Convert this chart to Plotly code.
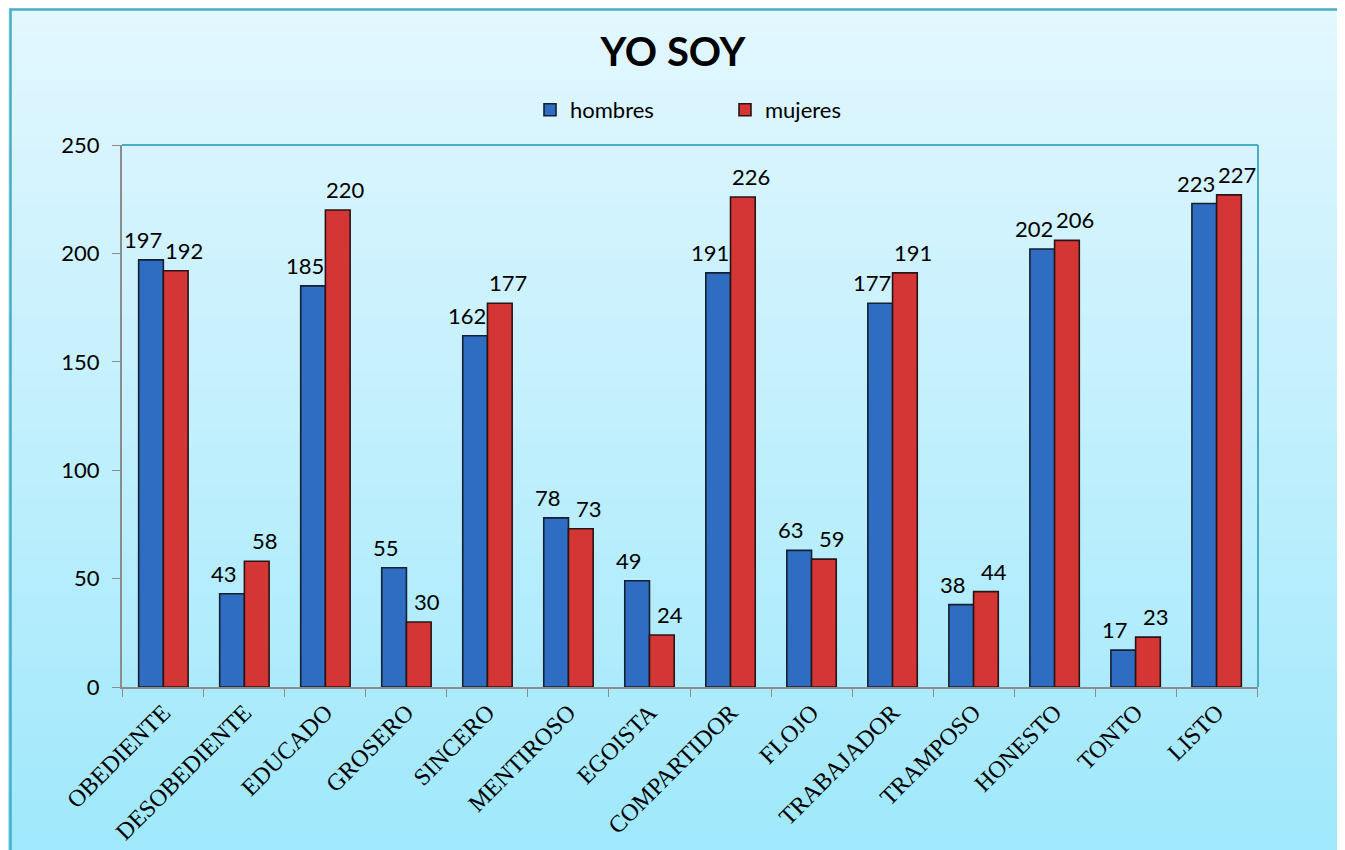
import plotly.graph_objects as go

categories = ["OBEDIENTE", "DESOBEDIENTE", "EDUCADO", "GROSERO", "SINCERO", "MENTIROSO",
              "EGOISTA", "COMPARTIDOR", "FLOJO", "TRABAJADOR", "TRAMPOSO", "HONESTO",
              "TONTO", "LISTO"]
hombres = [197, 43, 185, 55, 162, 78, 49, 191, 63, 177, 38, 202, 17, 223]
mujeres = [192, 58, 220, 30, 177, 73, 24, 226, 59, 191, 44, 206, 23, 227]
y_ticks = [0, 50, 100, 150, 200, 250]

OFF = 8  # page body margin
PAGE_W, PAGE_H = 1345, 850
W, H = PAGE_W - OFF, PAGE_H - OFF
# plot area in page pixels
PL, PR, PT, PB = 122, 1258, 145, 687
ML, MT = PL - OFF, PT - OFF
PW, PH = PR - PL, PB - PT
MR, MB = W - ML - PW, H - MT - PH
BARGAP = 0.39


def px2x(px):  # page px -> paper x
    return (px - PL) / PW


def py2y(py):  # page py -> paper y
    return (PB - py) / PH


fig = go.Figure()
fig.add_trace(go.Bar(
    name="hombres", x=categories, y=hombres,
    marker=dict(color="#2f6dc2", line=dict(color="#15202e", width=1.6)),
))
fig.add_trace(go.Bar(
    name="mujeres", x=categories, y=mujeres,
    marker=dict(color="#d43636", line=dict(color="#2a1414", width=1.6)),
))

# data labels above bars, spread slightly apart so neighbours don't collide
bar_px = PW / len(categories) * (1 - BARGAP) / 2
spread = 8
annotations = []
for series, sign in ((hombres, -1), (mujeres, 1)):
    for cat, val in zip(categories, series):
        annotations.append(dict(
            x=cat, y=val, xref="x", yref="y", text=str(val), showarrow=False,
            xanchor="center", yanchor="bottom", yshift=5,
            xshift=sign * (bar_px / 2 + spread),
            font=dict(family="Lato", size=22, color="black"),
        ))

shapes = []
# vertical gradient background
top = (226, 247, 254)
bot = (160, 232, 252)
n = 60
for i in range(n):
    t = i / (n - 1)
    c = tuple(round(top[k] + (bot[k] - top[k]) * t) for k in range(3))
    pa = OFF + i * H / n
    pb = OFF + (i + 1) * H / n + 1
    shapes.append(dict(type="rect", xref="paper", yref="paper",
                       x0=px2x(0), x1=px2x(PAGE_W + 10), y0=py2y(pb), y1=py2y(pa),
                       fillcolor="rgb(%d,%d,%d)" % c, line=dict(width=0), layer="below"))
# outer chart border
shapes.append(dict(type="rect", xref="paper", yref="paper",
                   x0=px2x(10.5), x1=px2x(PAGE_W + 20), y0=py2y(PAGE_H + 20), y1=py2y(9.5),
                   line=dict(color="#4bacc6", width=2.5), fillcolor="rgba(0,0,0,0)", layer="below"))
# plot area top/right border
shapes.append(dict(type="line", xref="paper", yref="paper", x0=0, x1=1, y0=1, y1=1,
                   line=dict(color="#4bacc6", width=2), layer="below"))
shapes.append(dict(type="line", xref="paper", yref="paper", x0=1, x1=1, y0=0, y1=1,
                   line=dict(color="#4bacc6", width=2), layer="below"))

fig.update_layout(
    width=W, height=H,
    margin=dict(l=ML, r=MR, t=MT, b=MB, autoexpand=False),
    paper_bgcolor="rgb(160,232,252)",
    plot_bgcolor="rgba(0,0,0,0)",
    barmode="group", bargap=BARGAP, bargroupgap=0.0,
    shapes=shapes,
    annotations=annotations,
    title=dict(text="<b>YO SOY</b>", x=(673 - OFF) / W, xanchor="center", xref="container",
               y=1 - (52 - OFF) / H, yanchor="middle", yref="container",
               font=dict(family="Lato", size=40, color="black")),
    legend=dict(orientation="h", x=px2x(725), xanchor="center",
                y=py2y(110), yanchor="middle", bgcolor="rgba(0,0,0,0)",
                font=dict(family="Lato", size=22, color="black"),
                entrywidth=150, entrywidthmode="pixels", itemclick=False),
    xaxis=dict(showline=True, linecolor="#8c8c8c", linewidth=2, automargin=False,
               ticks="outside", tickson="boundaries", ticklen=8, tickcolor="#8c8c8c",
               tickangle=-45, tickfont=dict(family="Liberation Serif", size=24, color="black"),
               showgrid=False),
    yaxis=dict(range=[0, 250], tickvals=y_ticks, showline=True, linecolor="#8c8c8c", linewidth=2,
               automargin=False, ticklabelstandoff=8,
               ticks="outside", ticklen=8, tickcolor="#8c8c8c",
               tickfont=dict(family="Lato", size=22, color="black"),
               showgrid=False, zeroline=False),
    showlegend=True,
)

fig.write_html("out.html")
